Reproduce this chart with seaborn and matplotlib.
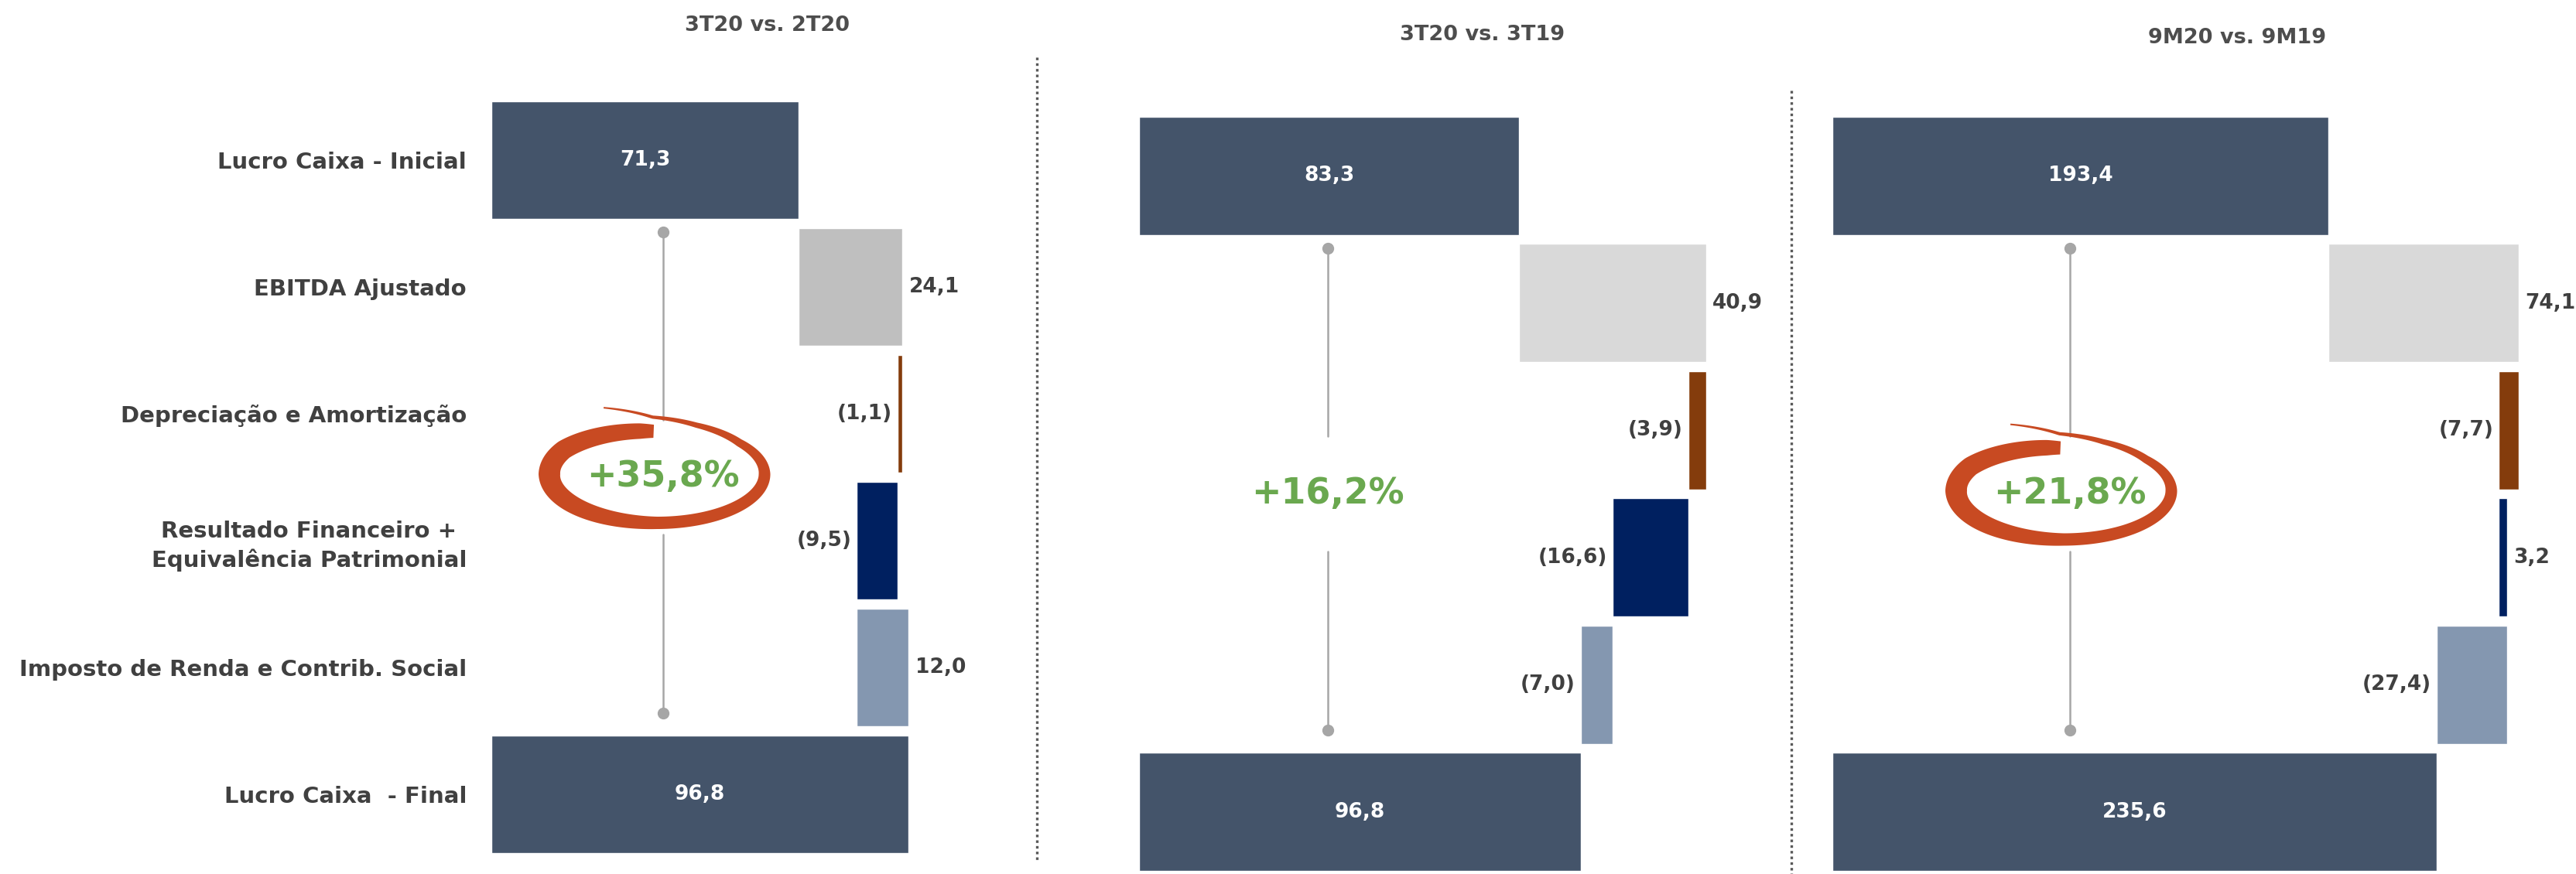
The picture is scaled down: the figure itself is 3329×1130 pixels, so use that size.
import numpy as np
import pandas as pd
import matplotlib
matplotlib.use("Agg")
import matplotlib.pyplot as plt
import matplotlib.transforms as mtransforms
from matplotlib.patches import Polygon
from matplotlib.lines import Line2D
import seaborn as sns

# ---- data ----
categories = ["Lucro Caixa - Inicial",
              "EBITDA Ajustado",
              "Depreciação e Amortização",
              "Resultado Financeiro +\nEquivalência Patrimonial",
              "Imposto de Renda e Contrib. Social",
              "Lucro Caixa  - Final"]
titles = ["3T20 vs. 2T20", "3T20 vs. 3T19", "9M20 vs. 9M19"]
start_values = [71.3, 83.3, 193.4]
final_values = [96.8, 96.8, 235.6]
ebitda = [24.1, 40.9, 74.1]
depreciacao = [-1.1, -3.9, -7.7]
resultado_fin = [-9.5, -16.6, 3.2]
imposto = [12.0, -7.0, -27.4]
growth_labels = ["+35,8%", "+16,2%", "+21,8%"]
circled = [True, False, True]

# ---- styles ----
main_color = "#44546A"
ebitda_colors = ["#BFBFBF", "#D9D9D9", "#D9D9D9"]
step_colors = ["#843C0C", "#002060", "#8497B0"]
text_color = "#404040"
green = "#6AA84F"
red = "#C84A22"
conn_color = "#A6A6A6"

sns.set_style("white")
plt.rcParams["font.family"] = ["DejaVu Sans"]

# layout in pixels (figure 3330 x 1130 at 100 dpi)
W, H = 3330, 1130
panel_left = [635, 1472, 2368]
px_per_unit = [5.57, 5.9, 3.315]
panel_xmax = [120, 140, 290]
panel_top = [125, 145, 145]
row_px = [164, 164.5, 164.5]
conn_px = [857, 1716, 2675]
title_xy = [(992, 33), (1916, 45), (2891, 49)]

fig = plt.figure(figsize=(W / 100, H / 100), dpi=100)


def fmt(v):
    s = f"{abs(v):.1f}".replace(".", ",")
    return f"({s})" if v < 0 else s


def circle_mark(ax, x, y):
    # hand drawn loop around the growth figure, built in pixels around (x, y)
    td = np.linspace(92, 470, 500)
    t = np.radians(td)
    r = np.interp(td, [92, 150, 400, 430, 452, 470], [0.88, 1.0, 1.0, 1.07, 1.17, 1.45])
    w = np.interp(td, [92, 100, 180, 270, 360, 420, 470], [17, 20, 28, 16, 15, 8, 2])
    px = 139 * r * np.cos(t)
    py = 63 * r * np.sin(t)
    tx, ty = np.gradient(px), np.gradient(py)
    n = np.hypot(tx, ty)
    nx, ny = ty / n, -tx / n
    outer = np.column_stack([px + nx * w / 2, py + ny * w / 2])
    inner = np.column_stack([px - nx * w / 2, py - ny * w / 2])
    verts = (np.vstack([outer, inner[::-1]]) + [-8, 4]) / 100
    trans = fig.dpi_scale_trans + mtransforms.ScaledTranslation(x, y, ax.transData)
    ax.add_patch(Polygon(verts, closed=True, transform=trans, facecolor=red,
                         edgecolor="none", zorder=4))


for i in range(3):
    height = 6 * row_px[i]
    ax = fig.add_axes([panel_left[i] / W, (H - panel_top[i] - height) / H,
                       panel_xmax[i] * px_per_unit[i] / W, height / H])

    totals = pd.DataFrame({"categoria": [categories[0], categories[-1]],
                           "valor": [start_values[i], final_values[i]]})
    sns.barplot(data=totals, x="valor", y="categoria", order=categories, orient="h",
                color=main_color, saturation=1, width=0.93, errorbar=None, ax=ax)

    deltas = np.array([ebitda[i], depreciacao[i], resultado_fin[i], imposto[i]])
    lefts = start_values[i] + np.concatenate([[0], np.cumsum(deltas)[:-1]])
    ax.barh(np.arange(1, 5), deltas, left=lefts, height=0.93,
            color=[ebitda_colors[i]] + step_colors)

    # values
    for pos, v in [(0, start_values[i]), (5, final_values[i])]:
        ax.text(v / 2, pos, fmt(v), color="white", ha="center", va="center",
                fontsize=19, fontweight="bold")
    for k, (d, l) in enumerate(zip(deltas, lefts)):
        end = l + d
        if d >= 0:
            ax.annotate(fmt(d), xy=(end, k + 1), xytext=(6, 0), textcoords="offset points",
                        ha="left", va="center", fontsize=19, fontweight="bold", color=text_color)
        else:
            ax.annotate(fmt(d), xy=(end, k + 1), xytext=(-5, 0), textcoords="offset points",
                        ha="right", va="center", fontsize=19, fontweight="bold", color=text_color)

    # connector and growth figure
    cx = (conn_px[i] - panel_left[i]) / px_per_unit[i]
    gap = 0.45
    ax.plot([cx, cx], [0.57, 2.5 - gap], color=conn_color, lw=1.8, zorder=1)
    ax.plot([cx, cx], [2.5 + gap, 4.36], color=conn_color, lw=1.8, zorder=1)
    ax.plot([cx, cx], [0.57, 4.36], ls="none", marker="o", ms=10, color=conn_color, zorder=2)
    ax.text(cx, 2.5, growth_labels[i], color=green, ha="center", va="center",
            fontsize=33, fontweight="bold", zorder=5)
    if circled[i]:
        circle_mark(ax, cx, 2.5)

    ax.set_xlim(0, panel_xmax[i])
    ax.set_ylim(5.5, -0.5)
    ax.set_xticks([])
    ax.set_xlabel("")
    ax.set_ylabel("")
    sns.despine(ax=ax, left=True, bottom=True)
    if i == 0:
        ax.set_yticks(range(6))
        ax.set_yticklabels(categories, fontsize=21, fontweight="bold", color=text_color)
        ax.tick_params(axis="y", length=0, pad=23)
        for lab in ax.get_yticklabels():
            lab.set_multialignment("center")
            lab.set_linespacing(1.35)
    else:
        ax.set_yticks([])

    tx, ty = title_xy[i]
    fig.text(tx / W, 1 - ty / H, titles[i], ha="center", va="center",
             fontsize=19.5, fontweight="bold", color="#4D4D4D")

# dotted separators between panels
for x, y0, y1 in [(1340, 74, 1115), (2315, 117, 1130)]:
    fig.add_artist(Line2D([x / W, x / W], [1 - y0 / H, 1 - y1 / H], transform=fig.transFigure,
                          color="#595959", lw=2.4, linestyle=(0, (1, 1.2))))

fig.savefig("out.png", dpi=100, facecolor="white")
